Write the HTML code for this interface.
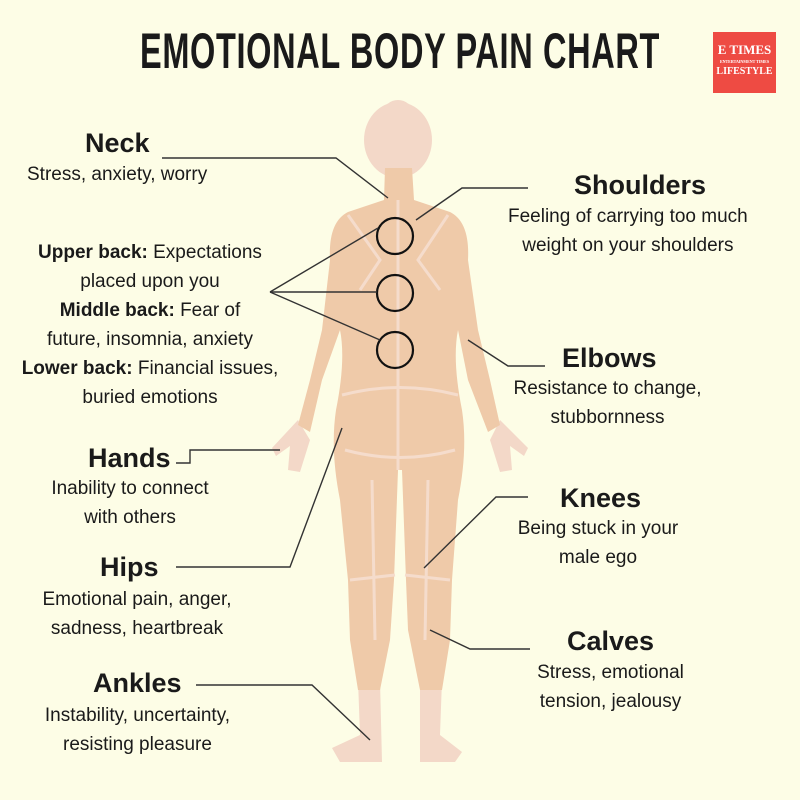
<!DOCTYPE html>
<html><head><meta charset="utf-8"><style>
html,body{margin:0;padding:0;background:#fdfde6;}
.w{position:relative;width:800px;height:800px;overflow:hidden;background:#fdfde6;font-family:"Liberation Sans",sans-serif;color:#1a1a1a;}
.t{position:absolute;white-space:nowrap;text-align:center;}
.h{font-weight:bold;font-size:27px;}
.b{font-size:19px;line-height:29px;}
</style></head><body><div class="w">
<svg width="800" height="800" style="position:absolute;left:0;top:0">
<g fill="#f3d8c8">
<ellipse cx="398" cy="140" rx="34" ry="38"/>
<ellipse cx="398" cy="112" rx="14" ry="12"/>
<path d="M298 420 L272 448 L276 456 L290 446 L288 470 L300 472 L310 440 Z"/>
<path d="M500 420 L528 448 L524 456 L510 446 L512 470 L500 472 L490 440 Z"/>
<path d="M358 680 L380 680 L382 762 L340 762 L332 748 L360 735 Z"/>
<path d="M420 680 L442 680 L440 735 L462 752 L455 762 L420 762 Z"/>
</g>
<path fill="#efcaa9" d="M385 168 L412 168 L414 200 L450 212 Q470 222 468 260 L478 330 L490 380 L500 425 L488 432 L468 380 L458 330 Q452 360 462 410 Q468 450 458 500 L452 580 L450 640 L442 690 L420 690 L408 630 L406 580 L402 470 L398 470 L394 580 L390 640 L380 690 L358 690 L350 640 L348 580 L340 500 Q330 450 336 410 Q346 360 340 330 L322 380 L310 432 L298 425 L310 380 L322 330 L330 260 Q328 222 348 212 L384 200 Z"/>
<g fill="none" stroke="#f5dccc" stroke-width="3">
<path d="M398 200 L398 470"/><path d="M348 215 L380 260 L360 290"/><path d="M448 215 L418 260 L440 290"/>
<path d="M342 395 Q400 380 458 395"/><path d="M345 450 Q400 465 455 450"/><path d="M398 420 L398 470"/>
<path d="M350 580 L395 575"/><path d="M405 575 L450 580"/><path d="M372 480 L375 640"/><path d="M428 480 L425 640"/>
</g>
<g fill="none" stroke="#111" stroke-width="2.2">
<circle cx="395" cy="236" r="18"/><circle cx="395" cy="293" r="18"/><circle cx="395" cy="350" r="18"/>
</g>
<g fill="none" stroke="#333" stroke-width="1.4">
<path d="M162 158 L336 158 L388 198"/>
<path d="M528 188 L462 188 L416 220"/>
<path d="M270 292 L378 228"/><path d="M270 292 L377 292"/><path d="M270 292 L380 340"/>
<path d="M468 340 L508 366 L545 366"/>
<path d="M176 463 L190 463 L190 450 L280 450"/>
<path d="M176 567 L290 567 L342 428"/>
<path d="M528 497 L496 497 L424 568"/>
<path d="M430 630 L470 649 L530 649"/>
<path d="M196 685 L312 685 L370 740"/>
</g>
</svg>
<div class="t" style="left:0;width:800px;top:22px;font-size:50px;font-weight:bold;transform:scaleX(0.65);letter-spacing:1px">EMOTIONAL BODY PAIN CHART</div>
<div style="position:absolute;left:713px;top:32px;width:63px;height:61px;background:#ee4b43;color:#fff;font-family:'Liberation Serif',serif;font-weight:bold;text-align:center">
<div style="font-size:13px;margin-top:10px">E TIMES</div><div style="font-size:4px;margin-top:1px">ENTERTAINMENT TIMES</div><div style="font-size:10px;margin-top:2px">LIFESTYLE</div></div>
<div class="t h" style="left:85px;top:128px">Neck</div>
<div class="t b" style="left:27px;top:160px">Stress, anxiety, worry</div>
<div class="t h" style="left:574px;top:170px">Shoulders</div>
<div class="t b" style="left:508px;top:202px">Feeling of carrying too much<br>weight on your shoulders</div>
<div class="t b" style="left:10px;top:238px;width:280px"><b>Upper back:</b> Expectations<br>placed upon you<br><b>Middle back:</b> Fear of<br>future, insomnia, anxiety<br><b>Lower back:</b> Financial issues,<br>buried emotions</div>
<div class="t h" style="left:562px;top:343px">Elbows</div>
<div class="t b" style="left:505px;top:374px;width:205px">Resistance to change,<br>stubbornness</div>
<div class="t h" style="left:88px;top:443px">Hands</div>
<div class="t b" style="left:40px;top:474px;width:180px">Inability to connect<br>with others</div>
<div class="t h" style="left:560px;top:483px">Knees</div>
<div class="t b" style="left:508px;top:514px;width:180px">Being stuck in your<br>male ego</div>
<div class="t h" style="left:100px;top:552px">Hips</div>
<div class="t b" style="left:27px;top:585px;width:220px">Emotional pain, anger,<br>sadness, heartbreak</div>
<div class="t h" style="left:567px;top:626px">Calves</div>
<div class="t b" style="left:528px;top:658px;width:165px">Stress, emotional<br>tension, jealousy</div>
<div class="t h" style="left:93px;top:668px">Ankles</div>
<div class="t b" style="left:30px;top:701px;width:215px">Instability, uncertainty,<br>resisting pleasure</div>
</div></body></html>
